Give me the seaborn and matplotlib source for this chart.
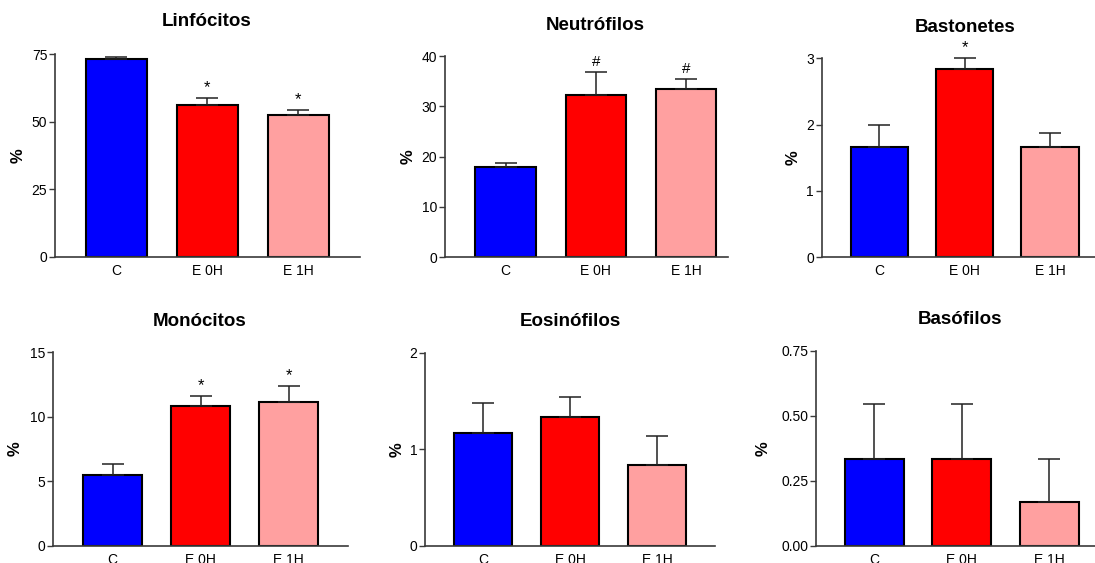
import matplotlib
matplotlib.use("Agg")
import matplotlib.pyplot as plt
import seaborn as sns
import pandas as pd

sns.set_style("white")
plt.rcParams['font.family'] = ['Liberation Sans', 'DejaVu Sans']
plt.rcParams['text.color'] = 'black'
plt.rcParams['xtick.color'] = 'black'
plt.rcParams['ytick.color'] = 'black'

# data (mean and upper SEM, in %)
groups = ["C", "E 0H", "E 1H"]
colors = ["#0000FF", "#FF0000", "#FFA0A0"]

titles = ["Linfócitos", "Neutrófilos", "Bastonetes",
          "Monócitos", "Eosinófilos", "Basófilos"]

linfocitos = [73.2, 56.0, 52.6]
linfocitos_err = [0.7, 2.9, 1.6]
neutrofilos = [18.0, 32.3, 33.5]
neutrofilos_err = [0.7, 4.5, 2.0]
bastonetes = [1.667, 2.833, 1.667]
bastonetes_err = [0.333, 0.167, 0.21]
monocitos = [5.5, 10.83, 11.17]
monocitos_err = [0.87, 0.8, 1.25]
eosinofilos = [1.167, 1.333, 0.833]
eosinofilos_err = [0.307, 0.21, 0.307]
basofilos = [0.333, 0.333, 0.167]
basofilos_err = [0.211, 0.211, 0.167]

means = [linfocitos, neutrofilos, bastonetes, monocitos, eosinofilos, basofilos]
errs = [linfocitos_err, neutrofilos_err, bastonetes_err,
        monocitos_err, eosinofilos_err, basofilos_err]
marks = [["", "*", "*"], ["", "#", "#"], ["", "*", ""],
         ["", "*", "*"], ["", "", ""], ["", "", ""]]

yticks = [[0, 25, 50, 75], [0, 10, 20, 30, 40], [0, 1, 2, 3],
          [0, 5, 10, 15], [0, 1, 2], [0, 0.25, 0.5, 0.75]]
yticklabels = [["0", "25", "50", "75"], ["0", "10", "20", "30", "40"],
               ["0", "1", "2", "3"], ["0", "5", "10", "15"],
               ["0", "1", "2"], ["0.00", "0.25", "0.50", "0.75"]]

# axes boxes in pixels: left, right, top, bottom; and x-limits
W, H = 1095, 563
boxes = [(55, 360, 54, 257), (445, 728, 56, 257.3), (821.7, 1095, 58.3, 257.3),
         (53.3, 347.7, 352.3, 545.7), (425, 715, 352.7, 545.7), (816, 1095, 350.7, 545.7)]
xlims = [(-0.67, 2.68), (-0.673, 2.466), (-0.678, 2.528),
         (-0.675, 2.67), (-0.669, 2.664), (-0.665, 2.523)]
label_x = [18, 408, 793, 15, 397, 763]
title_x = [207, 595, 965, 200, 570, 960]
title_y = [22, 25, 27, 321.5, 321.5, 319]

fig = plt.figure(figsize=(W / 100, H / 100), dpi=100)
axis_col = "#3a3a3a"

for i in range(6):
    l, r, t, b = boxes[i]
    ax = fig.add_axes([l / W, 1 - b / H, (r - l) / W, (b - t) / H])
    df = pd.DataFrame({"group": groups, "value": means[i]})
    sns.barplot(data=df, x="group", y="value", hue="group", palette=colors,
                saturation=1, width=0.67, edgecolor="black", linewidth=1.5,
                legend=False, ax=ax)
    ax.errorbar(range(3), means[i], yerr=[[0, 0, 0], errs[i]], fmt="none",
                ecolor="#222222", elinewidth=1.1, capsize=8.2, capthick=1.1,
                clip_on=False, zorder=1)
    ymax = yticks[i][-1]
    for j in range(3):
        if marks[i][j]:
            ax.annotate(marks[i][j], (j, means[i][j] + errs[i][j]),
                        xytext=(0, 2), textcoords="offset points",
                        ha="center", va="bottom",
                        fontsize=11 if marks[i][j] == "#" else 12,
                        annotation_clip=False)
    ax.set_xlim(*xlims[i])
    ax.set_ylim(0, ymax)
    ax.set_yticks(yticks[i])
    ax.set_yticklabels(yticklabels[i], fontsize=10)
    ax.tick_params(axis="y", length=4, width=1, color=axis_col, pad=1.5,
                   direction="out", left=True)
    ax.tick_params(axis="x", length=0, labelsize=10, pad=5)
    ax.set_xlabel("")
    ax.set_ylabel("")
    fig.text(label_x[i] / W, 1 - ((t + b) / 2) / H, "%", rotation=90,
             fontsize=12, fontweight="bold", ha="center", va="center")
    fig.text(title_x[i] / W, 1 - title_y[i] / H, titles[i], fontsize=13.5,
             fontweight="bold", ha="center", va="center")
    sns.despine(ax=ax)
    for s in ["left", "bottom"]:
        ax.spines[s].set_color(axis_col)
        ax.spines[s].set_linewidth(1.2)

fig.savefig("out.png", dpi=100)
